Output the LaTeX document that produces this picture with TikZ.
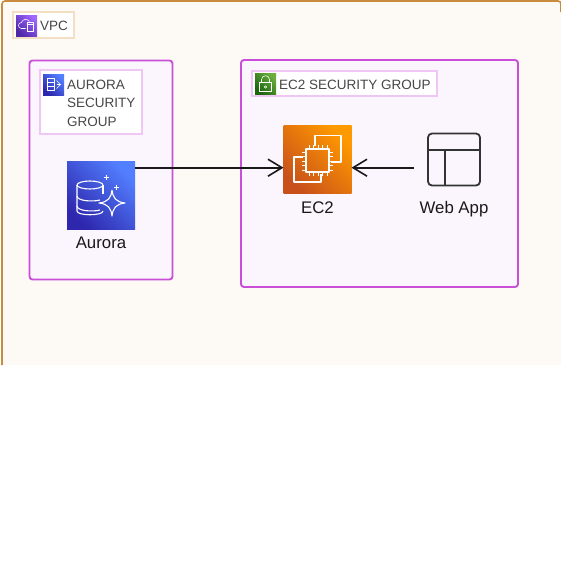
\documentclass[tikz,border=0pt]{standalone}
\usepackage{fontspec}
\setmainfont{Liberation Sans}
\usetikzlibrary{positioning,arrows.meta}
\definecolor{vpcfill}{HTML}{FDF9F4}
\definecolor{vpcline}{HTML}{C98B3D}
\definecolor{vpclabel}{HTML}{F3DFC4}
\definecolor{groupfill}{HTML}{FBF6FD}
\definecolor{groupline}{HTML}{C94FD8}
\definecolor{grouplabel}{HTML}{F0C6F5}
\definecolor{bluelow}{HTML}{2E27AD}
\definecolor{bluehigh}{HTML}{527FFF}
\definecolor{orangelow}{HTML}{C8511B}
\definecolor{orangehigh}{HTML}{FF9900}
\definecolor{violetlow}{HTML}{4D27A8}
\definecolor{violethigh}{HTML}{A166FF}
\definecolor{greenlow}{HTML}{1B660F}
\definecolor{greenhigh}{HTML}{6CAE3E}
\tikzset{
  groupbox/.style={draw=groupline,fill=groupfill,line width=1.9pt,rounded corners=3pt,inner sep=0pt,outer sep=0pt,anchor=north west},
  labelbox/.style={fill=white,line width=1.2pt,inner sep=0pt,outer sep=0pt,anchor=north west},
  labeltext/.style={text=black!72,font=\fontsize{13.5}{18.5}\selectfont,align=left,inner sep=0pt},
  nametext/.style={text=black!90,font=\fontsize{16.8}{20}\selectfont,inner sep=0pt},
  gradient/.style 2 args={bottom color=#1,top color=#2,shading angle=-45},
  bigicon/.style={minimum size=68pt,inner sep=0pt,outer sep=0pt},
  smallicon/.style={minimum size=21pt,inner sep=0pt,outer sep=0pt,anchor=north west},
  glyph/.style={draw=white,line width=1.1pt,line join=round},
  tinyglyph/.style={draw=white,line width=.55pt,line join=round},
  flow/.style={draw=black!90,line width=1.6pt,-{Straight Barb[length=14pt,width=17pt]}}
}
\begin{document}
\begin{tikzpicture}[x=1pt,y=-1pt]
  \useasboundingbox (0,0) rectangle (561,579);
  \fill[vpcfill] (2,1) rectangle (561,365);
  \draw[vpcline,line width=1.6pt,rounded corners=3pt] (2,365) -- (2,1) -- (561,1) -- (561,12);
  \node[labelbox,draw=vpclabel,minimum width=61pt,minimum height=26pt] (vpclbl) at (13,12) {};
  \node[smallicon,gradient={violetlow}{violethigh}] (vpcicon) at (16,15) {};
  \node[labeltext,right=3pt of vpcicon] (vpctxt) {VPC};
  \begin{scope}[shift={(vpcicon.center)}]
    \draw[tinyglyph] (-1,3) -- (-5,3) .. controls (-9,3) and (-9,-3) .. (-5,-3) .. controls (-4,-7) and (1,-7) .. (3,-4);
    \draw[tinyglyph] (1,-3) rectangle (7,6) (1,-1) -- (7,-1);
  \end{scope}
  \node[groupbox,minimum width=143pt,minimum height=219pt] (auroragrp) at (29.5,60.5) {};
  \node[labelbox,draw=grouplabel,minimum width=102pt,minimum height=64pt] (auroralbl) at (40,70) {};
  \node[smallicon,gradient={bluelow}{bluehigh}] (aurorasgicon) at (43,74) {};
  \node[labeltext,anchor=north west] (auroratxt) at (67,79.5) {AURORA\\SECURITY\\GROUP};
  \begin{scope}[shift={(aurorasgicon.center)}]
    \draw[tinyglyph] (-6,-6) rectangle (1,6) (-6,-2) -- (1,-2) (-6,2) -- (1,2);
    \foreach \i in {-4,0,4} \draw[tinyglyph] (3,\i) -- (7,0);
  \end{scope}
  \node[groupbox,minimum width=277pt,minimum height=227pt] (ec2grp) at (241,60) {};
  \node[labelbox,draw=grouplabel,minimum width=185pt,minimum height=25pt] (ec2lbl) at (252,71) {};
  \node[smallicon,gradient={greenlow}{greenhigh}] (ec2sgicon) at (255,73) {};
  \node[labeltext,right=3pt of ec2sgicon,yshift=-1pt] (ec2txt) {EC2 SECURITY GROUP};
  \begin{scope}[shift={(ec2sgicon.center)}]
    \draw[tinyglyph] (-6,-1) rectangle (6,8);
    \draw[tinyglyph] (-4,-1) -- (-4,-4) .. controls (-4,-9) and (4,-9) .. (4,-4) -- (4,-1);
    \draw[tinyglyph] (0,3.5) circle (1.3);
  \end{scope}
  \node[bigicon,gradient={bluelow}{bluehigh}] (aurora) at (101,195) {};
  \node[nametext,below=8pt of aurora] (auroraname) {Aurora};
  \begin{scope}[shift={(aurora.center)}]
    \draw[glyph] (-11,-10) ellipse (13 and 4);
    \draw[glyph] (-24,-10) -- (-24,16) .. controls (-24,21) and (2,21) .. (2,16);
    \draw[glyph] (2,-10) -- (2,-1);
    \foreach \j in {1,11} \draw[glyph] (-24,\j) .. controls (-24,\j+5) and (-8,\j+6) .. (-1,\j+4);
    \draw[glyph] (11,-5) .. controls (12,3) and (15,7) .. (24,8) .. controls (15,9) and (12,13) .. (11,21) .. controls (10,13) and (7,9) .. (-2,8) .. controls (7,7) and (10,3) .. (11,-5);
    \draw[glyph,line width=.9pt] (5,-20.5) -- (5,-15.5) (2.5,-18) -- (7.5,-18);
    \draw[glyph,line width=.9pt] (15,-10.5) -- (15,-5.5) (12.5,-8) -- (17.5,-8);
  \end{scope}
  \node[bigicon,gradient={orangelow}{orangehigh}] (ec2) at (317.5,159.5) {};
  \node[nametext,below=8pt of ec2] (ec2name) {EC2};
  \begin{scope}[shift={(ec2.center)}]
    \draw[glyph] (-2.5,-14) -- (-2.5,-24) -- (23.5,-24) -- (23.5,2.5) -- (13.5,2.5);
    \draw[glyph] (-14.5,-2.5) -- (-23.5,-2.5) -- (-23.5,22.5) -- (3.5,22.5) -- (3.5,14);
    \draw[glyph] (-11.5,-10.5) rectangle (11.5,12.5);
    \foreach \k in {-8.5,-4,0.5,5,9.5} {
      \draw[glyph,line width=.8pt] (\k,-10.5) -- (\k,-14.5) (\k,12.5) -- (\k,16.5);
      \draw[glyph,line width=.8pt] (-11.5,\k+1) -- (-15.5,\k+1) (11.5,\k+1) -- (15.5,\k+1);
    }
  \end{scope}
  \node[draw=black!80,line width=1.8pt,rounded corners=4pt,minimum size=52pt,inner sep=0pt,outer sep=0pt] (webapp) at (454,159.5) {};
  \draw[black!80,line width=1.8pt] (webapp.west |- 0,150) -- (webapp.east |- 0,150) (445,150) -- (445,185.5);
  \node[nametext,below=16pt of webapp] (webappname) {Web App};
  \coordinate (auroraout) at ([yshift=27.3pt]aurora.east);
  \coordinate (ec2left) at ([yshift=-8.2pt]ec2.west);
  \coordinate (ec2right) at ([yshift=-8.2pt]ec2.east);
  \coordinate (webout) at (414,167.7);
  \draw[flow] (auroraout) -- (ec2left);
  \draw[flow] (webout) -- (ec2right);
\end{tikzpicture}
\end{document}
